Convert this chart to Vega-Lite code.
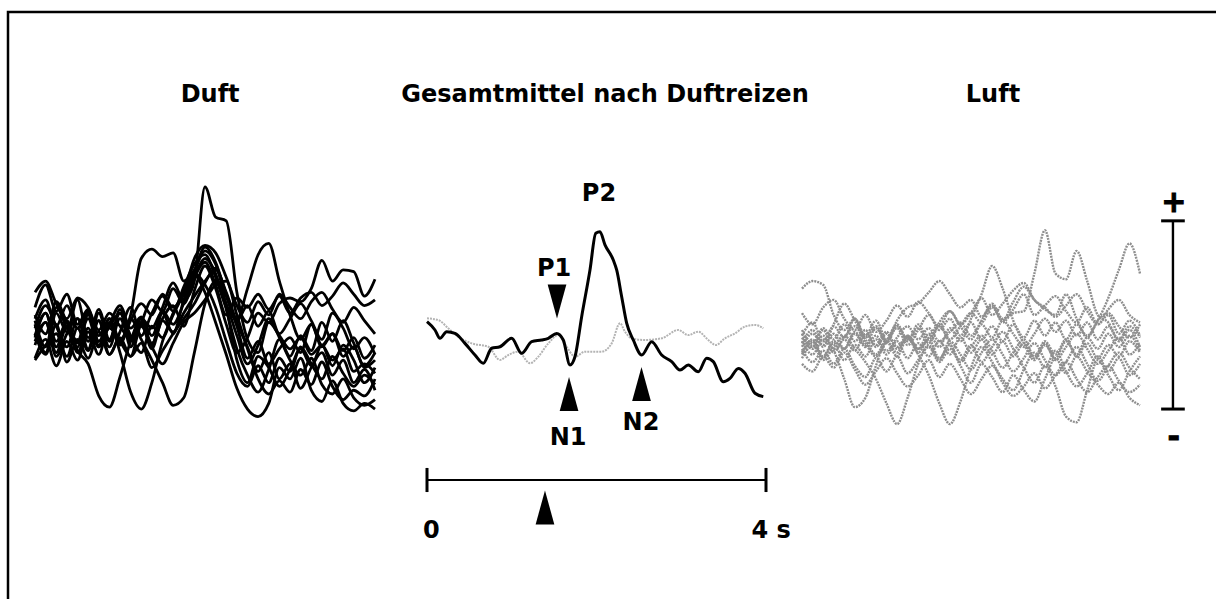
{
  "$schema": "https://vega.github.io/schema/vega-lite/v6.json",
  "width": 1216,
  "height": 599,
  "autosize": {"type": "fit", "contains": "padding"},
  "padding": {"left": 8, "top": 12, "right": -6, "bottom": -6},
  "background": "white",
  "config": {
    "view": {"stroke": "#000000", "strokeWidth": 2.5},
    "text": {"font": "DejaVu Sans", "fontWeight": "bold", "fontSize": 24, "color": "#000000", "align": "center", "baseline": "middle"}
  },
  "datasets": {
    "duft": [
      {"trace": "1", "t": [0,0.125,0.25,0.375,0.5,0.625,0.75,0.875,1,1.125,1.25,1.375,1.5,1.625,1.75,1.875,2,2.125,2.25,2.375,2.5,2.625,2.75,2.875,3,3.125,3.25,3.375,3.5,3.625,3.75,3.875,4], "v": [1.2,2.4,1.0,1.9,0.3,1.1,-0.6,0.2,0.9,-0.4,0.6,0.1,1.0,0.3,1.4,2.6,7.6,6.0,5.8,2.0,-0.5,-1.2,0.4,-0.3,-1.0,-0.4,-1.3,-0.8,-1.6,-1.0,-2.2,-1.8,-2.3]},
      {"trace": "2", "t": [0,0.125,0.25,0.375,0.5,0.625,0.75,0.875,1,1.125,1.25,1.375,1.5,1.625,1.75,1.875,2,2.125,2.25,2.375,2.5,2.625,2.75,2.875,3,3.125,3.25,3.375,3.5,3.625,3.75,3.875,4], "v": [-0.3,0.9,-0.6,0.4,-1.2,0.1,-0.9,0.6,-0.5,0.8,3.8,4.3,3.9,4.1,2.6,3.2,4.2,3.5,1.8,0.2,-1.5,-0.6,-1.8,-1.0,-0.4,-1.2,0.3,-0.8,-0.2,-1.4,-0.9,-2.0,-1.6]},
      {"trace": "3", "t": [0,0.125,0.25,0.375,0.5,0.625,0.75,0.875,1,1.125,1.25,1.375,1.5,1.625,1.75,1.875,2,2.125,2.25,2.375,2.5,2.625,2.75,2.875,3,3.125,3.25,3.375,3.5,3.625,3.75,3.875,4], "v": [0.3,-1.2,0.9,-0.1,1.6,-0.4,0.5,-1.3,-0.1,1.2,-0.3,0.9,1.8,1.0,2.3,3.5,4.0,2.8,1.2,0.6,2.2,4.0,4.6,2.6,0.8,-0.5,0.3,-0.9,-0.2,-1.1,-0.4,-1.5,-0.8]},
      {"trace": "4", "t": [0,0.125,0.25,0.375,0.5,0.625,0.75,0.875,1,1.125,1.25,1.375,1.5,1.625,1.75,1.875,2,2.125,2.25,2.375,2.5,2.625,2.75,2.875,3,3.125,3.25,3.375,3.5,3.625,3.75,3.875,4], "v": [-0.8,0.4,-1.4,-0.2,0.6,-1.0,0.9,-0.6,1.1,-0.9,0.4,-0.7,0.6,1.3,0.2,2.1,3.4,2.2,0.3,-1.2,-0.4,0.9,0.4,1.4,1.7,1.5,2.2,3.7,2.6,3.2,3.1,1.8,2.7]},
      {"trace": "5", "t": [0,0.125,0.25,0.375,0.5,0.625,0.75,0.875,1,1.125,1.25,1.375,1.5,1.625,1.75,1.875,2,2.125,2.25,2.375,2.5,2.625,2.75,2.875,3,3.125,3.25,3.375,3.5,3.625,3.75,3.875,4], "v": [2.0,2.6,1.4,0.6,1.7,1.2,0.0,0.9,0.2,-0.5,0.4,1.6,1.0,2.2,1.4,2.8,3.6,2.4,0.8,1.7,1.2,1.9,1.1,1.8,0.9,1.7,2.0,1.3,1.8,2.5,1.9,1.3,1.6]},
      {"trace": "6", "t": [0,0.125,0.25,0.375,0.5,0.625,0.75,0.875,1,1.125,1.25,1.375,1.5,1.625,1.75,1.875,2,2.125,2.25,2.375,2.5,2.625,2.75,2.875,3,3.125,3.25,3.375,3.5,3.625,3.75,3.875,4], "v": [-0.4,0.9,-0.9,0.5,-1.1,-1.8,-3.5,-4.1,-2.5,-0.6,0.6,-0.8,0.9,-0.2,1.6,3.0,2.4,1.2,-0.6,-2.3,-3.0,-1.9,-2.8,-1.5,-2.2,-0.9,-1.8,-2.6,-1.4,-2.3,-3.0,-2.4,-2.9]},
      {"trace": "7", "t": [0,0.125,0.25,0.375,0.5,0.625,0.75,0.875,1,1.125,1.25,1.375,1.5,1.625,1.75,1.875,2,2.125,2.25,2.375,2.5,2.625,2.75,2.875,3,3.125,3.25,3.375,3.5,3.625,3.75,3.875,4], "v": [0.5,-0.9,1.2,0.1,-0.9,0.8,-0.6,0.4,-1.2,-3.3,-4.2,-2.8,-0.6,0.8,1.9,2.9,3.8,3.0,1.1,-1.0,-2.4,-3.3,-2.1,-0.5,-1.4,-0.3,-1.1,0.4,-0.6,0.5,-0.7,-1.9,-1.2]},
      {"trace": "8", "t": [0,0.125,0.25,0.375,0.5,0.625,0.75,0.875,1,1.125,1.25,1.375,1.5,1.625,1.75,1.875,2,2.125,2.25,2.375,2.5,2.625,2.75,2.875,3,3.125,3.25,3.375,3.5,3.625,3.75,3.875,4], "v": [-1.5,-0.5,-1.9,-0.6,-1.6,-0.1,-1.3,0.3,-0.8,0.6,-0.5,-1.6,-2.8,-4.0,-3.6,-1.2,1.4,2.6,1.4,-0.3,-1.8,-0.8,0.6,-0.4,-1.6,-2.4,-1.5,-2.9,-3.4,-2.6,-3.6,-4.0,-3.7]},
      {"trace": "9", "t": [0,0.125,0.25,0.375,0.5,0.625,0.75,0.875,1,1.125,1.25,1.375,1.5,1.625,1.75,1.875,2,2.125,2.25,2.375,2.5,2.625,2.75,2.875,3,3.125,3.25,3.375,3.5,3.625,3.75,3.875,4], "v": [0.1,1.3,0.2,-0.9,0.6,-0.6,1.1,-0.5,0.9,-0.3,-1.2,0.2,-0.4,0.9,2.0,2.9,2.0,0.4,-1.3,-3.1,-4.2,-4.6,-3.9,-2.0,-2.6,-1.5,-3.2,-3.8,-2.7,-3.9,-4.3,-3.9,-4.2]},
      {"trace": "10", "t": [0,0.125,0.25,0.375,0.5,0.625,0.75,0.875,1,1.125,1.25,1.375,1.5,1.625,1.75,1.875,2,2.125,2.25,2.375,2.5,2.625,2.75,2.875,3,3.125,3.25,3.375,3.5,3.625,3.75,3.875,4], "v": [-1.6,-0.8,-0.2,-1.4,0.1,-1.1,0.5,-0.9,0.6,-0.6,0.3,-1.0,0.5,-0.1,0.9,1.8,2.6,3.2,2.0,0.4,-0.9,-2.2,-1.2,-2.6,-1.8,-3.1,-2.0,-1.2,-2.4,-1.6,-2.8,-2.1,-3.2]},
      {"trace": "11", "t": [0,0.125,0.25,0.375,0.5,0.625,0.75,0.875,1,1.125,1.25,1.375,1.5,1.625,1.75,1.875,2,2.125,2.25,2.375,2.5,2.625,2.75,2.875,3,3.125,3.25,3.375,3.5,3.625,3.75,3.875,4], "v": [0.8,-0.2,1.5,0.4,-0.6,0.9,-0.8,0.3,1.3,0.1,0.7,-0.3,1.2,2.5,1.6,3.1,4.4,3.6,1.9,0.5,1.3,0.2,1.0,-0.2,0.6,1.4,0.5,-0.5,0.9,0.1,-1.0,-0.4,-1.3]},
      {"trace": "12", "t": [0,0.125,0.25,0.375,0.5,0.625,0.75,0.875,1,1.125,1.25,1.375,1.5,1.625,1.75,1.875,2,2.125,2.25,2.375,2.5,2.625,2.75,2.875,3,3.125,3.25,3.375,3.5,3.625,3.75,3.875,4], "v": [-0.2,-1.3,0.3,-1.7,-0.5,-1.5,-0.1,-1.3,-0.4,-1.4,0.2,-0.9,-1.8,-0.7,0.4,0.9,1.6,2.4,2.6,0.8,-1.0,-2.6,-3.4,-2.7,-3.3,-2.1,-2.9,-1.7,-3.0,-3.7,-3.2,-3.5,-2.6]},
      {"trace": "13", "t": [0,0.125,0.25,0.375,0.5,0.625,0.75,0.875,1,1.125,1.25,1.375,1.5,1.625,1.75,1.875,2,2.125,2.25,2.375,2.5,2.625,2.75,2.875,3,3.125,3.25,3.375,3.5,3.625,3.75,3.875,4], "v": [0.6,1.6,0.2,1.3,0.1,1.0,-0.3,0.6,-0.7,0.5,1.4,0.8,1.9,1.2,2.0,3.8,4.5,4.1,2.8,1.3,0.4,1.5,0.8,1.9,1.2,0.6,1.5,2.0,1.1,0.4,1.2,0.5,-0.2]},
      {"trace": "14", "t": [0,0.125,0.25,0.375,0.5,0.625,0.75,0.875,1,1.125,1.25,1.375,1.5,1.625,1.75,1.875,2,2.125,2.25,2.375,2.5,2.625,2.75,2.875,3,3.125,3.25,3.375,3.5,3.625,3.75,3.875,4], "v": [-0.6,0.4,-1.2,0.2,-0.7,0.6,-0.9,0.1,-0.6,-1.4,-0.7,-2.0,-1.1,-0.2,0.6,1.4,2.5,3.3,1.2,-1.6,-2.8,-1.4,-2.0,-3.0,-2.1,-1.0,-1.9,-0.8,-1.9,-0.8,-1.6,-2.8,-2.0]}
    ],
    "luft": [
      {"trace": "1", "t": [0,0.125,0.25,0.375,0.5,0.625,0.75,0.875,1,1.125,1.25,1.375,1.5,1.625,1.75,1.875,2,2.125,2.25,2.375,2.5,2.625,2.75,2.875,3,3.125,3.25,3.375,3.5,3.625,3.75,3.875,4], "v": [-1.2,-0.5,-1.4,-0.6,-1.0,-0.2,-0.9,-0.3,-1.1,-0.4,0.2,-0.5,0.1,-0.6,-0.1,0.4,-0.3,0.5,1.4,0.6,0.9,1.0,3.0,5.3,3.0,2.7,4.2,2.6,0.8,0.4,-0.5,0.2,-0.4]},
      {"trace": "2", "t": [0,0.125,0.25,0.375,0.5,0.625,0.75,0.875,1,1.125,1.25,1.375,1.5,1.625,1.75,1.875,2,2.125,2.25,2.375,2.5,2.625,2.75,2.875,3,3.125,3.25,3.375,3.5,3.625,3.75,3.875,4], "v": [-0.4,-1.0,-0.3,-1.2,-0.5,-1.1,-0.2,-0.8,-0.1,-0.9,-0.3,-1.0,-0.4,0.3,-0.5,0.2,0.9,0.4,1.2,0.5,1.5,2.3,1.6,1.1,0.8,1.9,0.6,-0.3,0.5,1.7,3.2,4.6,3.0]},
      {"trace": "3", "t": [0,0.125,0.25,0.375,0.5,0.625,0.75,0.875,1,1.125,1.25,1.375,1.5,1.625,1.75,1.875,2,2.125,2.25,2.375,2.5,2.625,2.75,2.875,3,3.125,3.25,3.375,3.5,3.625,3.75,3.875,4], "v": [2.2,2.6,2.4,0.8,0.0,0.6,-0.4,0.2,-0.6,0.5,1.2,1.4,2.0,2.6,1.9,1.2,1.6,0.7,1.3,0.4,1.1,1.9,0.8,1.3,1.8,1.0,0.4,1.2,0.3,0.8,-0.2,0.5,-0.3]},
      {"trace": "4", "t": [0,0.125,0.25,0.375,0.5,0.625,0.75,0.875,1,1.125,1.25,1.375,1.5,1.625,1.75,1.875,2,2.125,2.25,2.375,2.5,2.625,2.75,2.875,3,3.125,3.25,3.375,3.5,3.625,3.75,3.875,4], "v": [-0.9,-0.2,-0.8,0.3,1.4,0.5,-0.5,-1.3,-0.6,-1.2,-0.3,-1.0,-0.2,-0.9,0.1,-0.6,0.6,1.9,3.4,2.2,0.5,-0.7,-1.6,-0.8,-1.5,-0.6,-1.3,-0.4,-1.0,-0.2,-0.9,-0.3,-1.1]},
      {"trace": "5", "t": [0,0.125,0.25,0.375,0.5,0.625,0.75,0.875,1,1.125,1.25,1.375,1.5,1.625,1.75,1.875,2,2.125,2.25,2.375,2.5,2.625,2.75,2.875,3,3.125,3.25,3.375,3.5,3.625,3.75,3.875,4], "v": [-0.6,-1.3,-0.5,-1.1,-2.6,-4.1,-3.6,-1.9,-0.6,-1.4,-0.4,-1.2,-0.5,-1.5,-0.8,-1.7,-0.9,-0.3,-1.1,-2.0,-1.2,-0.5,-1.4,-0.7,-1.6,-0.9,-0.2,-1.0,-1.8,-1.1,-0.4,-1.3,-0.7]},
      {"trace": "6", "t": [0,0.125,0.25,0.375,0.5,0.625,0.75,0.875,1,1.125,1.25,1.375,1.5,1.625,1.75,1.875,2,2.125,2.25,2.375,2.5,2.625,2.75,2.875,3,3.125,3.25,3.375,3.5,3.625,3.75,3.875,4], "v": [-1.5,-0.8,-1.6,-0.9,-0.3,-1.0,-1.7,-2.6,-3.9,-5.0,-3.6,-1.8,-0.8,-1.6,-0.6,-1.3,-2.1,-1.2,-0.5,-1.3,-2.2,-1.5,-0.7,-1.6,-2.4,-1.7,-0.9,-1.8,-2.7,-1.9,-1.2,-2.0,-2.6]},
      {"trace": "7", "t": [0,0.125,0.25,0.375,0.5,0.625,0.75,0.875,1,1.125,1.25,1.375,1.5,1.625,1.75,1.875,2,2.125,2.25,2.375,2.5,2.625,2.75,2.875,3,3.125,3.25,3.375,3.5,3.625,3.75,3.875,4], "v": [0.0,-0.7,0.1,-0.5,0.3,-0.6,0.0,-0.9,-0.2,-1.0,-0.4,-1.3,-2.4,-3.9,-5.0,-3.8,-2.0,-0.9,-1.7,-2.6,-3.2,-2.1,-1.2,-2.0,-1.1,-2.2,-3.0,-2.3,-1.4,-2.2,-1.5,-2.4,-1.8]},
      {"trace": "8", "t": [0,0.125,0.25,0.375,0.5,0.625,0.75,0.875,1,1.125,1.25,1.375,1.5,1.625,1.75,1.875,2,2.125,2.25,2.375,2.5,2.625,2.75,2.875,3,3.125,3.25,3.375,3.5,3.625,3.75,3.875,4], "v": [-0.7,0.0,-0.9,-0.2,-1.0,-0.1,-0.8,0.1,-0.7,0.2,-0.6,0.3,-0.5,0.2,-0.7,-1.6,-0.8,-1.7,-0.9,-0.1,-1.0,-2.0,-2.8,-1.9,-3.0,-4.6,-4.9,-3.2,-1.6,-2.4,-3.2,-2.2,-1.4]},
      {"trace": "9", "t": [0,0.125,0.25,0.375,0.5,0.625,0.75,0.875,1,1.125,1.25,1.375,1.5,1.625,1.75,1.875,2,2.125,2.25,2.375,2.5,2.625,2.75,2.875,3,3.125,3.25,3.375,3.5,3.625,3.75,3.875,4], "v": [-1.0,-1.7,-1.1,-1.8,-1.0,-1.9,-2.5,-1.5,-2.2,-1.4,-2.3,-1.6,-0.9,-1.7,-1.0,-1.9,-2.8,-1.8,-2.5,-3.3,-2.4,-3.2,-3.8,-2.6,-1.5,-2.3,-1.4,-2.2,-2.9,-3.4,-2.8,-3.6,-4.0]},
      {"trace": "10", "t": [0,0.125,0.25,0.375,0.5,0.625,0.75,0.875,1,1.125,1.25,1.375,1.5,1.625,1.75,1.875,2,2.125,2.25,2.375,2.5,2.625,2.75,2.875,3,3.125,3.25,3.375,3.5,3.625,3.75,3.875,4], "v": [0.9,0.3,1.2,1.6,0.6,0.0,0.8,-0.1,0.5,1.3,0.7,1.5,0.9,0.2,1.0,0.3,0.9,1.7,0.8,1.4,2.1,2.5,1.6,1.2,0.7,1.3,1.9,1.0,0.3,1.1,1.6,0.8,0.4]},
      {"trace": "11", "t": [0,0.125,0.25,0.375,0.5,0.625,0.75,0.875,1,1.125,1.25,1.375,1.5,1.625,1.75,1.875,2,2.125,2.25,2.375,2.5,2.625,2.75,2.875,3,3.125,3.25,3.375,3.5,3.625,3.75,3.875,4], "v": [-0.3,0.4,-0.6,0.2,-0.4,0.6,-0.3,0.5,-0.5,0.1,-0.8,0.0,0.8,0.0,0.6,-0.3,0.4,-0.5,0.2,-0.6,0.3,-0.4,0.5,-0.3,0.4,-0.5,0.3,-0.4,0.5,0.9,0.2,-0.4,0.3]},
      {"trace": "12", "t": [0,0.125,0.25,0.375,0.5,0.625,0.75,0.875,1,1.125,1.25,1.375,1.5,1.625,1.75,1.875,2,2.125,2.25,2.375,2.5,2.625,2.75,2.875,3,3.125,3.25,3.375,3.5,3.625,3.75,3.875,4], "v": [-1.3,-0.6,-1.5,-0.7,-1.6,-0.8,-1.4,-0.5,-1.3,-0.6,-1.5,-0.7,-1.4,-0.6,-1.3,-0.4,-1.2,-0.5,-1.3,-0.6,-1.4,-0.7,-1.5,-0.6,-1.3,-0.5,-1.4,-0.7,-1.5,-0.8,-1.4,-0.6,-1.2]},
      {"trace": "13", "t": [0,0.125,0.25,0.375,0.5,0.625,0.75,0.875,1,1.125,1.25,1.375,1.5,1.625,1.75,1.875,2,2.125,2.25,2.375,2.5,2.625,2.75,2.875,3,3.125,3.25,3.375,3.5,3.625,3.75,3.875,4], "v": [-0.2,-0.9,0.0,-1.0,-0.4,0.2,-0.7,-1.4,-0.6,0.3,-0.5,0.1,-0.7,0.4,1.0,0.2,-0.5,0.3,-0.4,0.5,-0.2,-0.9,-0.2,0.6,-0.1,0.5,-0.3,0.4,-0.5,0.2,-0.6,0.0,-0.9]},
      {"trace": "14", "t": [0,0.125,0.25,0.375,0.5,0.625,0.75,0.875,1,1.125,1.25,1.375,1.5,1.625,1.75,1.875,2,2.125,2.25,2.375,2.5,2.625,2.75,2.875,3,3.125,3.25,3.375,3.5,3.625,3.75,3.875,4], "v": [-1.8,-2.2,-1.4,-2.0,-1.2,-2.1,-2.9,-2.2,-1.5,-2.3,-3.0,-2.4,-1.6,-2.5,-1.8,-2.6,-3.4,-2.6,-1.9,-2.8,-3.5,-3.0,-2.3,-3.1,-2.4,-1.7,-2.6,-3.3,-2.5,-1.9,-2.7,-3.3,-2.9]}
    ],
    "mittel_duft": [
      {"t":0.0,"v":0.44},{"t":0.094,"v":0.0},{"t":0.153,"v":-0.44},{"t":0.232,"v":-0.09},{"t":0.33,"v":-0.18},
      {"t":0.448,"v":-0.71},{"t":0.566,"v":-1.33},{"t":0.664,"v":-1.77},{"t":0.763,"v":-0.97},{"t":0.861,"v":-0.89},
      {"t":0.999,"v":-0.44},{"t":1.117,"v":-1.24},{"t":1.235,"v":-0.62},{"t":1.353,"v":-0.53},{"t":1.431,"v":-0.44},
      {"t":1.53,"v":-0.18},{"t":1.608,"v":-0.53},{"t":1.687,"v":-1.86},{"t":1.746,"v":-1.42},{"t":1.825,"v":0.71},
      {"t":1.923,"v":3.19},{"t":1.991,"v":5.14},{"t":2.041,"v":5.22},{"t":2.1,"v":4.52},{"t":2.198,"v":3.72},
      {"t":2.238,"v":3.19},{"t":2.297,"v":1.77},{"t":2.356,"v":0.36},{"t":2.434,"v":-0.53},{"t":2.533,"v":-1.33},
      {"t":2.651,"v":-0.62},{"t":2.769,"v":-1.33},{"t":2.887,"v":-1.68},{"t":2.985,"v":-2.13},{"t":3.083,"v":-1.86},
      {"t":3.201,"v":-2.22},{"t":3.3,"v":-1.5},{"t":3.378,"v":-1.68},{"t":3.496,"v":-2.75},{"t":3.575,"v":-2.57},
      {"t":3.673,"v":-2.04},{"t":3.752,"v":-2.3},{"t":3.87,"v":-3.36},{"t":3.968,"v":-3.54}
    ],
    "mittel_luft": [
      {"t":0.0,"v":0.62},{"t":0.133,"v":0.53},{"t":0.251,"v":0.09},{"t":0.369,"v":-0.36},{"t":0.527,"v":-0.71},
      {"t":0.723,"v":-0.89},{"t":0.861,"v":-1.59},{"t":0.959,"v":-1.33},{"t":1.077,"v":-1.15},{"t":1.215,"v":-1.77},
      {"t":1.313,"v":-1.42},{"t":1.431,"v":-0.71},{"t":1.549,"v":-0.27},{"t":1.648,"v":-0.89},{"t":1.746,"v":-1.42},
      {"t":1.864,"v":-1.15},{"t":2.061,"v":-1.15},{"t":2.179,"v":-0.71},{"t":2.277,"v":0.36},{"t":2.336,"v":-0.09},
      {"t":2.415,"v":-0.44},{"t":2.572,"v":-0.53},{"t":2.769,"v":-0.44},{"t":2.965,"v":0.0},{"t":3.083,"v":-0.27},
      {"t":3.201,"v":-0.09},{"t":3.319,"v":-0.53},{"t":3.407,"v":-0.8},{"t":3.516,"v":-0.44},{"t":3.634,"v":-0.18},
      {"t":3.752,"v":0.18},{"t":3.87,"v":0.27},{"t":3.968,"v":0.09}
    ]
  },
  "resolve": {"scale": {"x": "independent"}},
  "layer": [
    {
      "layer": [
        {
          "data": {"name": "duft"},
          "transform": [{"flatten": ["t", "v"]}],
          "mark": {"type": "line", "color": "#000000", "strokeWidth": 2.8, "interpolate": "monotone"},
          "encoding": {
            "x": {"field": "t", "type": "quantitative", "scale": {"domain": [-0.3176, 13.9647], "nice": false, "zero": false}, "axis": null},
            "y": {"field": "v", "type": "quantitative", "scale": {"domain": [-14.612, 16.897], "nice": false, "zero": false}, "axis": null},
            "detail": {"field": "trace", "type": "nominal"}
          }
        },
        {
          "data": {"values": [{"t": 2.06, "v": 12.49, "label": "Duft"}]},
          "mark": {"type": "text"},
          "encoding": {
            "x": {"field": "t", "type": "quantitative"},
            "y": {"field": "v", "type": "quantitative"},
            "text": {"field": "label"}
          }
        }
      ]
    },
    {
      "layer": [
        {
          "data": {"name": "mittel_luft"},
          "mark": {"type": "line", "color": "#b4b4b4", "strokeWidth": 2, "strokeDash": [2, 1], "interpolate": "monotone"},
          "encoding": {
            "x": {"field": "t", "type": "quantitative", "scale": {"domain": [-4.944, 9.3805], "nice": false, "zero": false}, "axis": null},
            "y": {"field": "v", "type": "quantitative", "axis": null}
          }
        },
        {
          "data": {"name": "mittel_duft"},
          "mark": {"type": "line", "color": "#000000", "strokeWidth": 3, "interpolate": "monotone"},
          "encoding": {
            "x": {"field": "t", "type": "quantitative"},
            "y": {"field": "v", "type": "quantitative"}
          }
        },
        {
          "data": {"values": [{"t": 1.534, "v": 1.51}]},
          "mark": {"type": "point", "shape": "M0,1L0.55,-1L-0.55,-1Z", "filled": true, "color": "#000000", "opacity": 1, "size": 1156},
          "encoding": {
            "x": {"field": "t", "type": "quantitative"},
            "y": {"field": "v", "type": "quantitative"}
          }
        },
        {
          "data": {"values": [{"t": 1.676, "v": -3.4}, {"t": 2.531, "v": -2.87}, {"t": 1.392, "v": -9.43}]},
          "mark": {"type": "point", "shape": "M0,-1L0.55,1L-0.55,1Z", "filled": true, "color": "#000000", "opacity": 1, "size": 1156},
          "encoding": {
            "x": {"field": "t", "type": "quantitative"},
            "y": {"field": "v", "type": "quantitative"}
          }
        },
        {
          "data": {"values": [{"t0": 0, "t1": 4, "v": -7.97}]},
          "mark": {"type": "rule", "color": "#000000", "strokeWidth": 2.2},
          "encoding": {
            "x": {"field": "t0", "type": "quantitative"},
            "x2": {"field": "t1"},
            "y": {"field": "v", "type": "quantitative"}
          }
        },
        {
          "data": {"values": [{"t": 0, "v0": -7.33, "v1": -8.61}, {"t": 4, "v0": -7.33, "v1": -8.61}]},
          "mark": {"type": "rule", "color": "#000000", "strokeWidth": 3},
          "encoding": {
            "x": {"field": "t", "type": "quantitative"},
            "y": {"field": "v0", "type": "quantitative"},
            "y2": {"field": "v1"}
          }
        },
        {
          "data": {"values": [
            {"t": 2.1, "v": 12.49, "label": "Gesamtmittel nach Duftreizen"},
            {"t": 2.029, "v": 7.23, "label": "P2"},
            {"t": 1.499, "v": 3.24, "label": "P1"},
            {"t": 1.664, "v": -5.74, "label": "N1"},
            {"t": 2.525, "v": -4.94, "label": "N2"},
            {"t": 0.05, "v": -10.7, "label": "0"},
            {"t": 4.06, "v": -10.7, "label": "4 s"}
          ]},
          "mark": {"type": "text"},
          "encoding": {
            "x": {"field": "t", "type": "quantitative"},
            "y": {"field": "v", "type": "quantitative"},
            "text": {"field": "label"}
          }
        }
      ]
    },
    {
      "layer": [
        {
          "data": {"name": "luft"},
          "transform": [{"flatten": ["t", "v"]}],
          "mark": {"type": "line", "color": "#8e8e8e", "strokeWidth": 2.4, "strokeDash": [2, 1], "interpolate": "monotone"},
          "encoding": {
            "x": {"field": "t", "type": "quantitative", "scale": {"domain": [-9.3964, 4.9704], "nice": false, "zero": false}, "axis": null},
            "y": {"field": "v", "type": "quantitative", "axis": null},
            "detail": {"field": "trace", "type": "nominal"}
          }
        },
        {
          "data": {"values": [{"t": 4.39, "v0": 5.8, "v1": -4.2}]},
          "mark": {"type": "rule", "color": "#000000", "strokeWidth": 2.4},
          "encoding": {
            "x": {"field": "t", "type": "quantitative"},
            "y": {"field": "v0", "type": "quantitative"},
            "y2": {"field": "v1"}
          }
        },
        {
          "data": {"values": [{"t0": 4.25, "t1": 4.53, "v": 5.8}, {"t0": 4.25, "t1": 4.53, "v": -4.2}]},
          "mark": {"type": "rule", "color": "#000000", "strokeWidth": 3},
          "encoding": {
            "x": {"field": "t0", "type": "quantitative"},
            "x2": {"field": "t1"},
            "y": {"field": "v", "type": "quantitative"}
          }
        },
        {
          "data": {"values": [{"t": 2.26, "v": 12.49, "label": "Luft"}]},
          "mark": {"type": "text"},
          "encoding": {
            "x": {"field": "t", "type": "quantitative"},
            "y": {"field": "v", "type": "quantitative"},
            "text": {"field": "label"}
          }
        },
        {
          "data": {"values": [{"t": 4.40, "v": 6.75, "label": "+"}, {"t": 4.40, "v": -5.74, "label": "-"}]},
          "mark": {"type": "text", "fontSize": 30, "stroke": "#000000", "strokeWidth": 1},
          "encoding": {
            "x": {"field": "t", "type": "quantitative"},
            "y": {"field": "v", "type": "quantitative"},
            "text": {"field": "label"}
          }
        }
      ]
    }
  ]
}
